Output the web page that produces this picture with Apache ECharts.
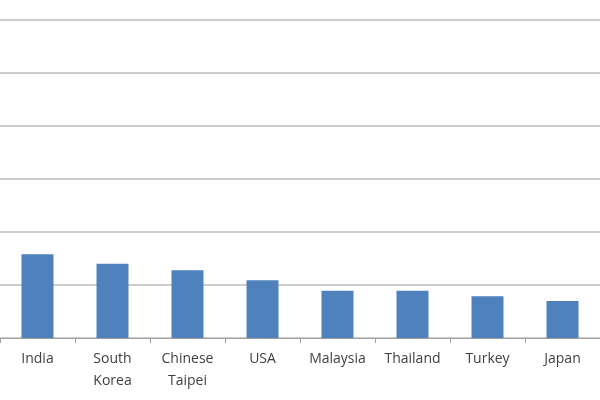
<!DOCTYPE html>
<html>
<head>
<meta charset="utf-8">
<script src="https://cdn.jsdelivr.net/npm/echarts@6/dist/echarts.min.js"></script>
<style>html,body{margin:0;padding:0;background:#fff}#c{width:600px;height:400px}</style>
</head>
<body>
<div id="c"></div>
<script>
const categories = ['India', 'South\nKorea', 'Chinese\nTaipei', 'USA', 'Malaysia', 'Thailand', 'Turkey', 'Japan'];
const values = [1.58, 1.40, 1.28, 1.09, 0.89, 0.89, 0.79, 0.70];

const chart = echarts.init(document.getElementById('c'));
chart.setOption({
  animation: false,
  grid: { left: -12, width: 640, top: 20, bottom: 62, containLabel: false },
  xAxis: {
    type: 'category',
    data: categories,
    axisLine: { lineStyle: { color: '#a0a0a0' } },
    axisTick: { show: true, length: 5, lineStyle: { color: '#a0a0a0' } },
    axisLabel: { color: '#404040', fontSize: 14, fontFamily: 'Open Sans', margin: 10, lineHeight: 22, interval: 0 }
  },
  yAxis: {
    type: 'value',
    min: 0, max: 6, interval: 1,
    axisLabel: { show: false },
    axisLine: { show: false },
    axisTick: { show: false },
    splitLine: { lineStyle: { color: '#bdbdbd', width: 1.5 } }
  },
  series: [{
    type: 'bar',
    data: values,
    barWidth: 32,
    itemStyle: { color: '#4f81bd' }
  }]
});
</script>
</body>
</html>
